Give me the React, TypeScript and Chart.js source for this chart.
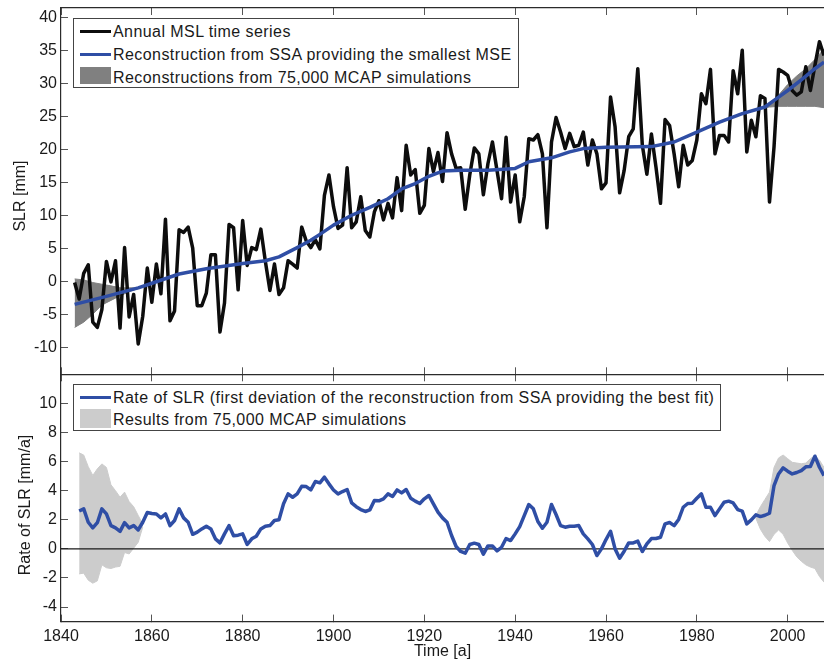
import React, { useEffect, useRef } from "react";
import { Chart, registerables } from "chart.js";

Chart.register(...registerables);

const FONT = "'Liberation Sans', Arial, sans-serif";
const INK = "#1a1a1a";
const AXIS = "#2b2b2b";
const BLUE = "#2f4ea5";

const timeTicks = [1840, 1860, 1880, 1900, 1920, 1940, 1960, 1980, 2000];
const slrTicks = [-10, -5, 0, 5, 10, 15, 20, 25, 30, 35, 40];
const rateTicks = [-4, -2, 0, 2, 4, 6, 8, 10];

const mslStart = 1843;
const mslValues = [
  -0.2, -2.7, 1.2, 2.5, -6.2, -7.0, -4.3, 3.0, -0.1, 3.1,
  -7.1, 5.1, -5.4, -2.0, -9.5, -5.3, 2.0, -3.2, 2.6, -1.9,
  9.4, -6.0, -4.5, 7.8, 7.4, 8.2, 5.0, -3.7, -3.7, -1.8,
  4.0, 4.0, -7.7, -3.3, 8.6, 8.1, -1.3, 9.2, 2.4, 5.1,
  4.8, 7.9, 3.0, -1.4, 2.6, -2.0, -1.0, 3.1, 2.6, 2.0,
  8.2, 6.1, 5.1, 6.3, 4.9,
  13.0, 16.1, 11.3, 8.0, 8.5, 17.2, 8.1, 9.0, 12.8, 7.7,
  6.7, 10.5, 12.2, 9.3, 11.8, 9.6, 15.7, 10.7, 20.6, 16.1,
  16.9, 10.3, 11.5, 20.1, 16.6, 19.5, 15.1, 22.5, 19.3, 17.1,
  17.2, 10.9, 16.1, 20.2, 19.3, 13.1, 17.8, 21.1, 16.8, 12.5,
  21.8, 12.0, 16.1, 9.0, 12.8, 21.6, 21.4, 22.2, 19.3, 8.1,
  21.1, 24.8, 22.6, 20.1, 22.4, 20.4, 20.6, 22.6, 17.6, 21.4,
  19.3, 14.0, 14.9, 27.9, 23.4, 13.4, 16.8, 21.9, 23.1, 32.2,
  20.6, 16.2, 22.3, 17.3, 11.8, 24.5, 23.6, 19.3, 14.3, 20.6,
  17.6, 18.3, 21.4, 28.4, 26.9, 32.1, 19.3, 22.1, 22.1, 21.1,
  31.9, 28.4, 35.0, 19.6, 24.4, 21.9, 28.1, 27.7, 12.0, 20.4,
  32.1, 31.7, 31.2, 28.9, 28.2, 28.7, 32.5, 28.9, 32.7, 36.3,
  34.2,
];

const ssaYears = [1843, 1850, 1857, 1860, 1866, 1872, 1880, 1885, 1888, 1892, 1895, 1897, 1900, 1904, 1908, 1912, 1915, 1918, 1921, 1924, 1928, 1934, 1940, 1943, 1948, 1952, 1955, 1960, 1970, 1975, 1980, 1985, 1990, 1995, 1998, 2000, 2003, 2006, 2008];
const ssaValues = [-3.5, -2.3, -1.0, -0.3, 1.1, 1.9, 2.7, 3.1, 3.7, 5.1, 6.2, 7.1, 8.5, 10.0, 11.2, 12.5, 14.0, 14.8, 15.9, 16.7, 16.8, 16.8, 17.1, 18.1, 18.7, 19.6, 20.1, 20.3, 20.4, 21.1, 22.6, 24.1, 25.4, 26.4, 27.9, 28.9, 30.5, 32.2, 33.2];

const mcapEarlyYears = [1843, 1845, 1847, 1849, 1851, 1853, 1855, 1857];
const mcapEarlyUpper = [0.35, 0.2, -0.2, -0.45, -0.7, -1.0, -1.0, -1.0];
const mcapEarlyLower = [-7.0, -6.2, -5.0, -3.6, -2.9, -2.2, -1.6, -1.1];
const mcapLateYears = [1995, 1996, 1998, 2000, 2002, 2004, 2006, 2008];
const mcapLateUpper = [26.5, 27.0, 28.2, 29.8, 31.1, 32.2, 33.6, 35.2];
const mcapLateLower = [26.3, 26.4, 26.5, 26.5, 26.5, 26.5, 26.5, 26.3];

const rateStart = 1844;
const rateValues = [
  2.6, 2.75, 1.83, 1.44, 1.8, 2.75, 2.4, 1.6, 1.44, 1.2,
  1.8, 1.44, 1.6, 1.3, 1.83, 2.5, 2.43, 2.4, 2.13, 2.4,
  1.6, 1.95, 2.75, 2.13, 1.83, 1.0, 1.15, 1.37, 1.56, 1.37,
  0.69, 0.41, 1.03, 1.6, 0.9, 0.94, 1.03, 0.3, 0.69, 0.87,
  1.37, 1.56, 1.6, 1.95, 2.0, 3.1, 3.78, 3.55, 3.78, 4.3,
  4.28, 4.05, 4.63, 4.54, 4.93, 4.47, 4.05, 3.78, 3.94, 4.08,
  3.16, 2.9, 2.7, 2.57, 2.68, 3.32, 3.3, 3.44, 3.78, 3.6,
  4.05, 3.85, 4.08, 3.48, 3.28, 3.12, 3.44, 3.67, 3.09, 2.52,
  2.13, 1.83, 0.92, 0.16, -0.18, -0.3, 0.3, 0.39, 0.3, -0.37,
  0.2, 0.2, -0.14, 0.11, 0.71, 0.57, 1.03, 1.53, 2.29, 3.05,
  2.75, 1.88, 1.42, 1.83, 3.05, 2.36, 1.6, 1.49, 1.56, 1.56,
  1.6, 1.03, 0.69, 0.3, -0.46, 0, 0.64, 1.21, 0, -0.64,
  -0.16, 0.41, 0.41, 0.53, -0.18, 0.34, 0.71, 0.71, 0.8, 1.72,
  1.81, 1.6, 2.02, 2.86, 3.12, 3.14, 3.48, 3.78, 2.86, 2.86,
  2.29, 2.75, 3.21, 3.28, 3.16, 2.7, 2.59, 1.72, 1.99, 2.34,
  2.22, 2.31, 2.45, 4.35, 5.15, 5.57, 5.34, 5.15, 5.25, 5.38,
  5.64, 5.66, 6.37, 5.61, 5.04,
];

const rateEarlyYears = [1844, 1845, 1846, 1847, 1848, 1849, 1850, 1851, 1852, 1853, 1854, 1855, 1856, 1857, 1858];
const rateEarlyUpper = [6.6, 6.45, 5.65, 5.05, 5.5, 5.84, 5.6, 4.4, 4.0, 3.55, 3.9, 3.25, 2.9, 2.3, 1.7];
const rateEarlyLower = [-1.72, -1.67, -2.15, -2.36, -2.2, -1.1, -1.3, -1.35, -1.25, -1.2, -0.25, -0.35, 0.05, 0.45, 1.5];
const rateLateYears = [1993, 1994, 1995, 1996, 1997, 1998, 1999, 2000, 2001, 2002, 2003, 2004, 2005, 2006, 2007, 2008];
const rateLateUpper = [2.3, 2.9, 3.4, 3.9, 5.6, 6.25, 6.45, 6.2, 5.95, 5.9, 5.85, 5.9, 6.2, 6.4, 6.1, 5.6];
const rateLateLower = [2.1, 1.35, 0.85, 0.5, 1.0, 1.3, 1.0, 0.4, -0.1, -0.55, -0.85, -1.1, -1.25, -1.35, -1.9, -2.29];

const zeroYears = [1840, 2008];
const zeroValues = [0, 0];

const pairs = (xs: number[], ys: number[]) => xs.map((x, i) => ({ x, y: ys[i] }));
const run = (start: number, ys: number[]) => ys.map((y, i) => ({ x: start + i, y }));

const line = (data: any, color: string, width: number, order: number) => ({
  data,
  borderColor: color,
  borderWidth: width,
  pointRadius: 0,
  tension: 0,
  fill: false,
  order,
  borderJoinStyle: "round" as const,
});

// upper edge fills down to the lower edge, which is the next dataset
const band = (years: number[], upper: number[], lower: number[], color: string, order: number) => [
  { data: pairs(years, upper), borderColor: color, backgroundColor: color, borderWidth: 1, pointRadius: 0, tension: 0, fill: "+1", order },
  { data: pairs(years, lower), borderColor: color, borderWidth: 1, pointRadius: 0, tension: 0, fill: false, order },
];

const fixedTicks = (values: number[]) => (scale: any) => {
  scale.ticks = values.map((value) => ({ value }));
};

// the layout reserves room for end labels otherwise, which shrinks the plot
const noPadding = (scale: any) => {
  scale.paddingLeft = 0;
  scale.paddingRight = 0;
  scale.paddingTop = 0;
  scale.paddingBottom = 0;
};

const makeOptions = (opts: {
  padTop: number;
  yMin: number;
  yMax: number;
  yValues: number[];
  showTime: boolean;
  xHeight: number;
}) => ({
  responsive: false,
  animation: false as const,
  layout: { padding: { top: opts.padTop, left: 0, right: 0, bottom: 0 } },
  plugins: { legend: { display: false }, tooltip: { enabled: false } },
  scales: {
    x: {
      type: "linear" as const,
      min: 1840,
      max: 2008,
      border: { color: AXIS, width: 1.2 },
      grid: { drawOnChartArea: false, tickLength: -7, tickColor: "#555" },
      afterBuildTicks: fixedTicks(timeTicks),
      afterFit: (scale: any) => {
        noPadding(scale);
        scale.height = opts.xHeight;
      },
      ticks: {
        display: opts.showTime,
        autoSkip: false,
        maxRotation: 0,
        padding: 12,
        color: INK,
        font: { family: FONT, size: 16 },
        callback: (v: any) => String(v),
      },
      title: {
        display: opts.showTime,
        text: "Time [a]",
        color: INK,
        padding: { top: 0, bottom: 0 },
        font: { family: FONT, size: 16 },
      },
    },
    xTop: {
      type: "linear" as const,
      position: "top" as const,
      min: 1840,
      max: 2008,
      border: { color: AXIS, width: 1.2 },
      grid: { drawOnChartArea: false, tickLength: -7, tickColor: "#555" },
      afterBuildTicks: fixedTicks(timeTicks),
      afterFit: (scale: any) => {
        noPadding(scale);
        scale.height = 0;
      },
      ticks: { display: false },
    },
    y: {
      min: opts.yMin,
      max: opts.yMax,
      border: { color: AXIS, width: 1.2 },
      grid: { drawOnChartArea: false, tickLength: -7, tickColor: "#555" },
      afterBuildTicks: fixedTicks(opts.yValues),
      afterFit: (scale: any) => {
        noPadding(scale);
        scale.width = 61;
      },
      ticks: {
        autoSkip: false,
        padding: 11,
        color: INK,
        font: { family: FONT, size: 16 },
        callback: (v: any) => String(v),
      },
    },
  },
});

const swatchLine = (left: number, top: number, color: string) => (
  <div style={{ position: "absolute", left, top, width: 31, height: 3, background: color }} />
);

const swatchBox = (left: number, top: number, height: number, color: string) => (
  <div style={{ position: "absolute", left, top, width: 31, height, background: color }} />
);

const textStyle = {
  position: "absolute" as const,
  height: 20,
  lineHeight: "20px",
  fontFamily: FONT,
  fontSize: 16,
  color: INK,
  whiteSpace: "nowrap" as const,
};

const label = (left: number, center: number, text: string) => (
  <div style={{ ...textStyle, left, top: center - 10, letterSpacing: 0.43 }}>{text}</div>
);

const yTitle = (x: number, y: number, text: string) => (
  <div style={{ ...textStyle, left: x, top: y, transform: "translate(-50%, -50%) rotate(-90deg)" }}>{text}</div>
);

const frame = (left: number, top: number, width: number, height: number) => (
  <div
    style={{
      position: "absolute",
      left,
      top,
      width,
      height,
      boxSizing: "border-box",
      background: "#fff",
      border: "1.5px solid #444",
    }}
  />
);

export default function App() {
  const topRef = useRef<HTMLCanvasElement>(null);
  const bottomRef = useRef<HTMLCanvasElement>(null);

  useEffect(() => {
    const topChart = new Chart(topRef.current as HTMLCanvasElement, {
      type: "line",
      data: {
        datasets: [
          ...band(mcapEarlyYears, mcapEarlyUpper, mcapEarlyLower, "#808080", 5),
          ...band(mcapLateYears, mcapLateUpper, mcapLateLower, "#808080", 5),
          line(run(mslStart, mslValues), "#0d0d0d", 3.5, 2),
          line(pairs(ssaYears, ssaValues), BLUE, 3.5, 1),
        ] as any,
      },
      options: makeOptions({
        padTop: 8,
        yMin: -14.1,
        yMax: 41.4,
        yValues: slrTicks,
        showTime: false,
        xHeight: 0.7,
      }) as any,
    });

    const bottomChart = new Chart(bottomRef.current as HTMLCanvasElement, {
      type: "line",
      data: {
        datasets: [
          ...band(rateEarlyYears, rateEarlyUpper, rateEarlyLower, "#cccccc", 5),
          ...band(rateLateYears, rateLateUpper, rateLateLower, "#cccccc", 5),
          line(pairs(zeroYears, zeroValues), "#1a1a1a", 1.2, 3),
          line(run(rateStart, rateValues), BLUE, 3.5, 1),
        ] as any,
      },
      options: makeOptions({
        padTop: 4.3,
        yMin: -5,
        yMax: 12,
        yValues: rateTicks,
        showTime: true,
        xHeight: 39.4,
      }) as any,
    });

    return () => {
      topChart.destroy();
      bottomChart.destroy();
    };
  }, []);

  return (
    <div style={{ position: "fixed", left: 0, top: 0, width: 824, height: 661, overflow: "hidden", background: "#fff" }}>
      <canvas ref={topRef} width={824} height={375} style={{ position: "absolute", left: 0, top: 0 }} />
      <canvas ref={bottomRef} width={824} height={291} style={{ position: "absolute", left: 0, top: 370 }} />

      {yTitle(20, 196, "SLR [mm]")}
      {yTitle(25, 505, "Rate of SLR [mm/a]")}

      {frame(73, 18, 446, 70)}
      {swatchLine(80, 30, "#0d0d0d")}
      {label(113, 32, "Annual MSL time series")}
      {swatchLine(80, 53, BLUE)}
      {label(113, 55, "Reconstruction from SSA providing the smallest MSE")}
      {swatchBox(80, 67, 17, "#808080")}
      {label(113, 78, "Reconstructions from 75,000 MCAP simulations")}

      {frame(73, 384, 648, 47)}
      {swatchLine(80, 396, BLUE)}
      {label(113, 398, "Rate of SLR (first deviation of the reconstruction from SSA providing the best fit)")}
      {swatchBox(80, 409, 19, "#cccccc")}
      {label(113, 420, "Results from 75,000 MCAP simulations")}
    </div>
  );
}
